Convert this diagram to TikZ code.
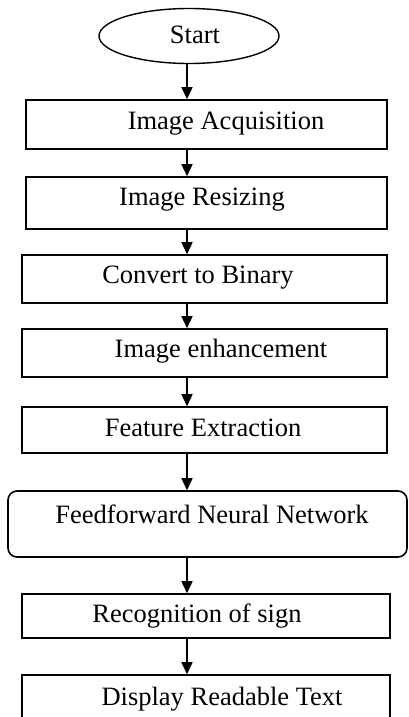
\documentclass[tikz,border=0pt]{standalone}
\usepackage{fontspec}
\setmainfont{Liberation Serif}
\usetikzlibrary{shapes.geometric,arrows.meta}
\tikzset{
  box/.style={draw=black, line width=1.6pt, rectangle, inner sep=0pt},
  rbox/.style={box, rounded corners=9pt},
  term/.style={draw=black, line width=1.4pt, ellipse, inner sep=0pt},
  lbl/.style={font=\fontsize{26.5}{30}\selectfont, inner sep=0pt, anchor=center},
  arr/.style={line width=1.6pt, -{Triangle[length=12pt,width=11pt]}}
}
\begin{document}
\begin{tikzpicture}[x=1pt,y=-1pt]
\clip (0,0) rectangle (408,717);
\fill[white] (0,0) rectangle (408,717);
% nodes
\node[term, minimum width=180pt, minimum height=55pt] (s) at (189,36) {};
\node[lbl] (ts) at (195,35) {Start};
\node[box, minimum width=361pt, minimum height=49pt] (b1) at (206.5,124.5) {};
\node[lbl] (t1) at (226,124) {Image Acquisition};
\node[box, minimum width=361pt, minimum height=52pt] (b2) at (206.5,203) {};
\node[lbl] (t2) at (202,200) {Image Resizing};
\node[box, minimum width=365pt, minimum height=48pt] (b3) at (204.5,279) {};
\node[lbl] (t3) at (198,278) {Convert to Binary};
\node[box, minimum width=365pt, minimum height=48pt] (b4) at (204.5,353) {};
\node[lbl] (t4) at (221,351) {Image enhancement};
\node[box, minimum width=365pt, minimum height=46pt] (b5) at (204.5,430) {};
\node[lbl] (t5) at (203,428) {Feature Extraction};
\node[rbox, minimum width=399pt, minimum height=66pt] (b6) at (207.5,524) {};
\node[lbl] (t6) at (212,514) {Feedforward Neural Network};
\node[box, minimum width=368pt, minimum height=44pt] (b7) at (206,616) {};
\node[lbl] (t7) at (197,616) {Recognition of sign};
\node[box, minimum width=368pt, minimum height=60pt] (b8) at (206,705) {};
\node[lbl] (t8) at (222,699) {Display Readable Text};
% connectors
\coordinate (ax) at (187,0);
\draw[arr] (s.south -| ax) -- (b1.north -| ax);
\draw[arr] (b1.south -| ax) -- (b2.north -| ax);
\draw[arr] (b2.south -| ax) -- (b3.north -| ax);
\draw[arr] (b3.south -| ax) -- (b4.north -| ax);
\draw[arr] (b4.south -| ax) -- (b5.north -| ax);
\draw[arr] (b5.south -| ax) -- (b6.north -| ax);
\draw[arr] (b6.south -| ax) -- (b7.north -| ax);
\draw[arr] (b7.south -| ax) -- (b8.north -| ax);
\end{tikzpicture}
\end{document}
